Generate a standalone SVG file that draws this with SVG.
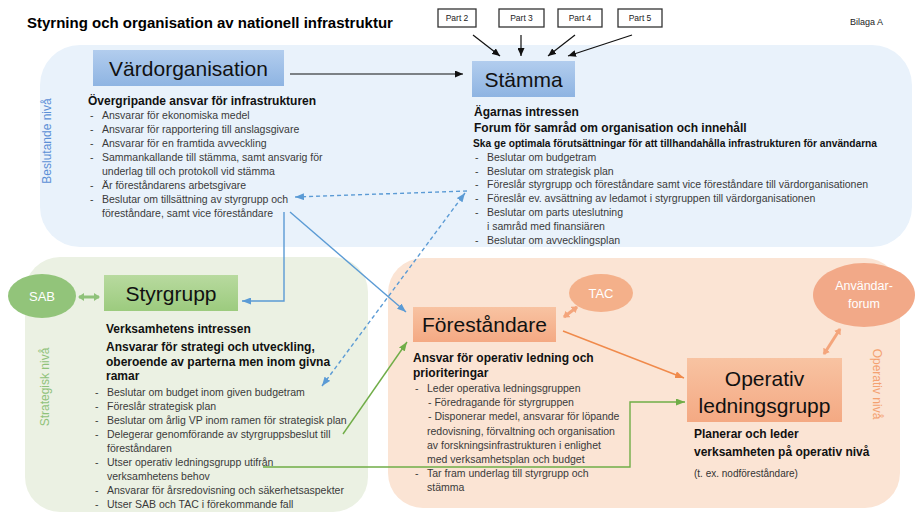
<svg xmlns="http://www.w3.org/2000/svg" width="918" height="515" viewBox="0 0 918 515">
<defs>
<style>
text{font-family:"Liberation Sans",Arial,sans-serif;}
.title{font-size:15px;font-weight:bold;fill:#000;}
.box{font-size:21px;fill:#111;text-anchor:middle;}
.h{font-size:12px;font-weight:bold;fill:#111;}
.li{font-size:10.5px;fill:#3a3a3a;}
.part{font-size:8.5px;fill:#222;text-anchor:middle;}
.ell{fill:#fff;text-anchor:middle;}
.side{font-size:12px;text-anchor:middle;}
.blk{stroke:#111;stroke-width:1.2;fill:none;}
.blue{stroke:#5b9bd5;stroke-width:1.4;fill:none;}
.dash{stroke:#5b9bd5;stroke-width:1.4;fill:none;stroke-dasharray:4 3;}
.green{stroke:#70ad47;stroke-width:1.4;fill:none;}
.orange{stroke:#f08a4b;stroke-width:1.4;fill:none;}
</style>
<linearGradient id="gBlue" x1="0" y1="0" x2="0" y2="1"><stop offset="0" stop-color="#b2cdee"/><stop offset="1" stop-color="#8eb4e2"/></linearGradient>
<linearGradient id="gGreen" x1="0" y1="0" x2="0" y2="1"><stop offset="0" stop-color="#b8da9f"/><stop offset="1" stop-color="#9ccb7e"/></linearGradient>
<linearGradient id="gOrange" x1="0" y1="0" x2="0" y2="1"><stop offset="0" stop-color="#f8c3a2"/><stop offset="1" stop-color="#f4a983"/></linearGradient>
<marker id="aBlk" markerUnits="userSpaceOnUse" markerWidth="8" markerHeight="7" refX="8" refY="3.5" orient="auto"><path d="M0,0 L8,3.5 L0,7 z" fill="#111"/></marker>
<marker id="aBlue" markerUnits="userSpaceOnUse" markerWidth="9" markerHeight="7" refX="9" refY="3.5" orient="auto"><path d="M0,0 L9,3.5 L0,7 z" fill="#5b9bd5"/></marker>
<marker id="aBlueS" markerUnits="userSpaceOnUse" markerWidth="9" markerHeight="7" refX="9" refY="3.5" orient="auto-start-reverse"><path d="M0,0 L9,3.5 L0,7 z" fill="#5b9bd5"/></marker>
<marker id="aGreen" markerUnits="userSpaceOnUse" markerWidth="9" markerHeight="7" refX="9" refY="3.5" orient="auto"><path d="M0,0 L9,3.5 L0,7 z" fill="#70ad47"/></marker>
<marker id="aOrange" markerUnits="userSpaceOnUse" markerWidth="9" markerHeight="7" refX="9" refY="3.5" orient="auto"><path d="M0,0 L9,3.5 L0,7 z" fill="#f08a4b"/></marker>
<marker id="dGreen" markerUnits="userSpaceOnUse" markerWidth="6" markerHeight="8" refX="5" refY="4" orient="auto-start-reverse"><path d="M0,0 L6,4 L0,8 z" fill="#8fc27a"/></marker>
<marker id="dOrange" markerUnits="userSpaceOnUse" markerWidth="6" markerHeight="8" refX="5" refY="4" orient="auto-start-reverse"><path d="M0,0 L6,4 L0,8 z" fill="#f4a57c"/></marker>
</defs>
<rect width="918" height="515" fill="#fff"/>

<!-- panels -->
<g id="panels">
<rect x="40" y="45" width="872" height="202" rx="40" fill="#e9f2fb"/>
<rect x="25" y="257" width="343" height="255" rx="35" fill="#ebf1e3"/>
<rect x="388" y="258" width="512" height="250" rx="35" fill="#fbe4d4"/>
<text class="side" fill="#5b8fd6" transform="translate(51,141) rotate(-90)">Beslutande nivå</text>
<text class="side" fill="#8fc27a" transform="translate(49,387) rotate(-90)">Strategisk nivå</text>
<text class="side" fill="#f4a170" transform="translate(873,384) rotate(90)">Operativ nivå</text>
</g>

<text class="title" x="27" y="28">Styrning och organisation av nationell infrastruktur</text>
<text x="850" y="25" font-size="9" fill="#222">Bilaga A</text>

<!-- parts -->
<g id="part2"><rect x="438" y="9" width="38" height="18" fill="#fff" stroke="#333" stroke-width="1.3"/><text class="part" x="457" y="21">Part 2</text></g>
<g id="part3"><rect x="499" y="9" width="45" height="18" fill="#fff" stroke="#333" stroke-width="1.3"/><text class="part" x="521.5" y="21">Part 3</text></g>
<g id="part4"><rect x="558" y="9" width="44" height="18" fill="#fff" stroke="#333" stroke-width="1.3"/><text class="part" x="580" y="21">Part 4</text></g>
<g id="part5"><rect x="618" y="9" width="44" height="18" fill="#fff" stroke="#333" stroke-width="1.3"/><text class="part" x="640" y="21">Part 5</text></g>

<!-- Vardorganisation -->
<g id="vardorganisation">
<rect x="93" y="50" width="191" height="36" fill="url(#gBlue)"/>
<text class="box" x="188.5" y="76">Värdorganisation</text>
<text class="h" x="88" y="105">Övergripande ansvar för infrastrukturen</text>
<g class="li">
<text x="90" y="119">-</text><text x="102" y="119">Ansvarar för ekonomiska medel</text>
<text x="90" y="133">-</text><text x="102" y="133">Ansvarar för rapportering till anslagsgivare</text>
<text x="90" y="147">-</text><text x="102" y="147">Ansvarar för en framtida avveckling</text>
<text x="90" y="161">-</text><text x="102" y="161">Sammankallande till stämma, samt ansvarig för</text>
<text x="102" y="175">underlag till och protokoll vid stämma</text>
<text x="90" y="189">-</text><text x="102" y="189">Är föreståndarens arbetsgivare</text>
<text x="90" y="203">-</text><text x="102" y="203">Beslutar om tillsättning av styrgrupp och</text>
<text x="102" y="217">föreståndare, samt vice föreståndare</text>
</g>
</g>

<!-- Stamma -->
<g id="stamma">
<rect x="472" y="61" width="103" height="36" fill="url(#gBlue)"/>
<text class="box" x="523.5" y="87">Stämma</text>
<text class="h" x="474" y="116">Ägarnas intressen</text>
<text class="h" x="474" y="132">Forum för samråd om organisation och innehåll</text>
<text x="473" y="147" font-size="10" font-weight="bold" fill="#111" textLength="404" lengthAdjust="spacingAndGlyphs">Ska ge optimala förutsättningar för att tillhandahålla infrastrukturen för användarna</text>
<g class="li">
<text x="475" y="161">-</text><text x="487" y="161">Beslutar om budgetram</text>
<text x="475" y="175">-</text><text x="487" y="175">Beslutar om strategisk plan</text>
<text x="475" y="188">-</text><text x="487" y="188">Föreslår styrgrupp och föreståndare samt vice föreståndare till värdorganisationen</text>
<text x="475" y="202">-</text><text x="487" y="202">Föreslår ev. avsättning av ledamot i styrgruppen till värdorganisationen</text>
<text x="475" y="216">-</text><text x="487" y="216">Beslutar om parts uteslutning</text>
<text x="487" y="230">i samråd med finansiären</text>
<text x="475" y="244">-</text><text x="487" y="244">Beslutar om avvecklingsplan</text>
</g>
</g>

<!-- SAB -->
<g id="sab">
<ellipse cx="42" cy="296" rx="34" ry="22" fill="#92c47a"/>
<text class="ell" x="42" y="301" font-size="13">SAB</text>
</g>

<!-- Styrgrupp -->
<g id="styrgrupp">
<rect x="104" y="275" width="134" height="36" fill="url(#gGreen)"/>
<text class="box" x="171" y="301">Styrgrupp</text>
<text class="h" x="106" y="333">Verksamhetens intressen</text>
<text class="h" x="106" y="351">Ansvarar för strategi och utveckling,</text>
<text class="h" x="106" y="366">oberoende av parterna men inom givna</text>
<text class="h" x="106" y="380">ramar</text>
<g class="li">
<text x="95" y="396">-</text><text x="107" y="396">Beslutar om budget inom given budgetram</text>
<text x="95" y="410">-</text><text x="107" y="410">Föreslår strategisk plan</text>
<text x="95" y="424">-</text><text x="107" y="424">Beslutar om årlig VP inom ramen för strategisk plan</text>
<text x="95" y="438">-</text><text x="107" y="438">Delegerar genomförande av styrgruppsbeslut till</text>
<text x="107" y="452">föreståndaren</text>
<text x="95" y="466">-</text><text x="107" y="466">Utser operativ ledningsgrupp utifrån</text>
<text x="107" y="480">verksamhetens behov</text>
<text x="95" y="494">-</text><text x="107" y="494">Ansvarar för årsredovisning och säkerhetsaspekter</text>
<text x="95" y="508">-</text><text x="107" y="508">Utser SAB och TAC i förekommande fall</text>
</g>
</g>

<!-- TAC -->
<g id="tac">
<ellipse cx="601" cy="293" rx="32" ry="19" fill="#f4b08a"/>
<text class="ell" x="601" y="298" font-size="13">TAC</text>
</g>

<!-- Forestandare -->
<g id="forestandare">
<rect x="413" y="307" width="143" height="35" fill="url(#gOrange)"/>
<text class="box" x="484.5" y="332">Föreståndare</text>
<text class="h" x="413" y="362">Ansvar för operativ ledning och</text>
<text class="h" x="413" y="377">prioriteringar</text>
<g class="li">
<text x="415" y="392">-</text><text x="427" y="392">Leder operativa ledningsgruppen</text>
<text x="428" y="406">- Föredragande för styrgruppen</text>
<text x="428" y="420">- Disponerar medel, ansvarar för löpande</text>
<text x="427" y="435">redovisning, förvaltning och organisation</text>
<text x="427" y="449">av forskningsinfrastrukturen i enlighet</text>
<text x="427" y="463">med verksamhetsplan och budget</text>
<text x="415" y="477">-</text><text x="427" y="477">Tar fram underlag till styrgrupp och</text>
<text x="427" y="491">stämma</text>
</g>
</g>

<!-- Anvandarforum -->
<g id="anvandarforum">
<ellipse cx="864" cy="295" rx="51" ry="32" fill="#f2a988"/>
<text class="ell" x="864" y="290" font-size="12.5" fill="#fdeee6">Användar-</text>
<text class="ell" x="864" y="308" font-size="12.5" fill="#fdeee6">forum</text>
</g>

<!-- Operativ ledningsgrupp -->
<g id="operativ">
<rect x="687" y="358" width="155" height="64" fill="url(#gOrange)"/>
<text class="box" x="764.5" y="386">Operativ</text>
<text class="box" x="764.5" y="413">ledningsgrupp</text>
<text class="h" x="694" y="438">Planerar och leder</text>
<text class="h" x="694" y="456">verksamheten på operativ nivå</text>
<text x="694" y="477" font-size="10" fill="#333">(t. ex. nodföreståndare)</text>
</g>

<!-- connectors -->
<g id="connectors">
<line class="blk" x1="290" y1="74" x2="463" y2="74" marker-end="url(#aBlk)"/>
<line class="blk" x1="473" y1="35" x2="500" y2="56" marker-end="url(#aBlk)"/>
<line class="blk" x1="521" y1="35" x2="521" y2="56" marker-end="url(#aBlk)"/>
<line class="blk" x1="575" y1="35" x2="548" y2="56" marker-end="url(#aBlk)"/>
<line class="blk" x1="632" y1="35" x2="568" y2="56" marker-end="url(#aBlk)"/>
<line class="dash" x1="467" y1="191" x2="295" y2="197" marker-end="url(#aBlue)"/>
<line class="dash" x1="322" y1="386" x2="465" y2="193" marker-start="url(#aBlueS)" marker-end="url(#aBlue)"/>
<polyline class="blue" points="284,212 284,301 242,301" marker-end="url(#aBlue)"/>
<line class="blue" x1="290" y1="212" x2="406" y2="312" marker-end="url(#aBlue)"/>
<line class="green" x1="343" y1="434" x2="407" y2="342" marker-end="url(#aGreen)"/>
<polyline class="green" points="263,467 630,467 630,402 685,402" marker-end="url(#aGreen)"/>
<line class="orange" x1="563" y1="331" x2="684" y2="378" marker-end="url(#aOrange)"/>
<line x1="79" y1="297" x2="99" y2="297" stroke="#8fc27a" stroke-width="3" marker-start="url(#dGreen)" marker-end="url(#dGreen)"/>
<line x1="564" y1="317" x2="577" y2="307" stroke="#f4a57c" stroke-width="3" marker-start="url(#dOrange)" marker-end="url(#dOrange)"/>
<line x1="824" y1="354" x2="840" y2="329" stroke="#f4a57c" stroke-width="3" marker-start="url(#dOrange)" marker-end="url(#dOrange)"/>
</g>
</svg>
